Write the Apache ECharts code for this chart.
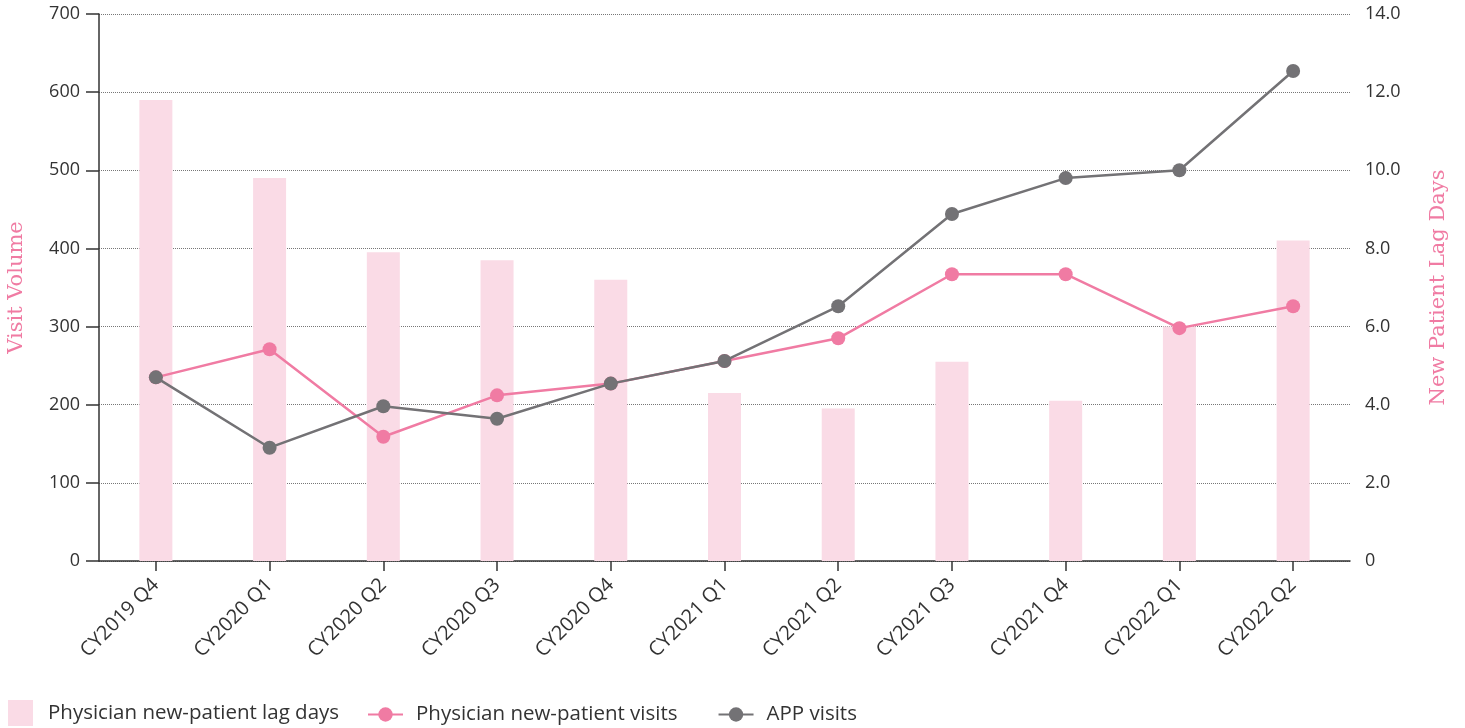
<!DOCTYPE html>
<html>
<head>
<meta charset="utf-8">
<script src="https://cdn.jsdelivr.net/npm/echarts@6/dist/echarts.min.js"></script>
<style>
html,body{margin:0;padding:0;background:#fff;}
#c{width:1465px;height:728px;}
</style>
</head>
<body>
<div id="c"></div>
<script>
const categories = ['CY2019 Q4','CY2020 Q1','CY2020 Q2','CY2020 Q3','CY2020 Q4','CY2021 Q1','CY2021 Q2','CY2021 Q3','CY2021 Q4','CY2022 Q1','CY2022 Q2'];
const lagDays = [11.8, 9.8, 7.9, 7.7, 7.2, 4.3, 3.9, 5.1, 4.1, 6.0, 8.2];
const physicianVisits = [235, 271, 159, 212, 227, 256, 285, 367, 367, 298, 326];
const appVisits = [235, 145, 198, 182, 227, 256, 326, 444, 490, 500, 627];
const leftTicks = [0, 100, 200, 300, 400, 500, 600, 700];
const rightTicks = [0, 2, 4, 6, 8, 10, 12, 14];

const FONT = '"Open Sans", "Noto Sans", sans-serif';
const SERIF = '"DejaVu Serif", "Liberation Serif", serif';
const PINK = '#f07ba3';
const GRAY = '#737275';
const BAR = '#fadbe6';

const chart = echarts.init(document.getElementById('c'));
chart.setOption({
  animation: false,
  backgroundColor: '#fff',
  grid: { left: 99, right: 115, top: 14, bottom: 167, containLabel: false, outerBoundsMode: 'none' },
  legend: [
    {
      data: [{ name: 'Physician new-patient lag days', icon: 'rect' }],
      left: 8, top: 700, padding: 0,
      itemWidth: 25, itemHeight: 26,
      textStyle: { fontFamily: FONT, fontSize: 20.5, color: '#333', padding: [0, 0, 0, 10] }
    },
    {
      data: ['Physician new-patient visits', 'APP visits'],
      left: 367, top: 704, padding: 0,
      itemWidth: 35, itemHeight: 18, itemGap: 40,
      textStyle: { fontFamily: FONT, fontSize: 20.5, color: '#333', padding: [0, 0, 0, 8] }
    }
  ],
  xAxis: {
    type: 'category',
    data: categories,
    boundaryGap: true,
    axisLine: { show: true, lineStyle: { color: '#333', width: 1.5 } },
    axisTick: { show: true, alignWithLabel: true, length: 10, lineStyle: { color: '#333', width: 1.5 } },
    axisLabel: { rotate: 45, fontFamily: FONT, fontSize: 20, color: '#333', margin: 21, interval: 0 },
    splitLine: { show: false }
  },
  yAxis: [
    {
      type: 'value',
      min: leftTicks[0], max: leftTicks[leftTicks.length - 1], interval: 100,
      name: 'Visit Volume',
      nameLocation: 'middle', nameRotate: 90, nameGap: 72,
      nameTextStyle: { fontFamily: SERIF, fontSize: 21, color: PINK },
      axisLine: { show: true, lineStyle: { color: '#333', width: 1.5 } },
      axisTick: { show: true, length: 13, lineStyle: { color: '#333', width: 1.5 } },
      axisLabel: { fontFamily: FONT, fontSize: 18, color: '#333', margin: 19 },
      splitLine: { show: true, lineStyle: { color: '#777', type: [1, 1], width: 1 } }
    },
    {
      type: 'value',
      min: rightTicks[0], max: rightTicks[rightTicks.length - 1], interval: 2,
      name: 'New Patient Lag Days',
      nameLocation: 'middle', nameRotate: 90, nameGap: 78,
      nameTextStyle: { fontFamily: SERIF, fontSize: 21, color: PINK },
      axisLine: { show: false },
      axisTick: { show: false },
      axisLabel: { fontFamily: FONT, fontSize: 18, color: '#333', margin: 15,
        formatter: v => v === 0 ? '0' : v.toFixed(1) },
      splitLine: { show: false }
    }
  ],
  series: [
    {
      name: 'Physician new-patient lag days',
      type: 'bar',
      yAxisIndex: 1,
      data: lagDays,
      barWidth: 33,
      itemStyle: { color: BAR },
      z: 1
    },
    {
      name: 'Physician new-patient visits',
      type: 'line',
      yAxisIndex: 0,
      data: physicianVisits,
      symbol: 'circle', symbolSize: 14,
      lineStyle: { color: PINK, width: 2.5 },
      itemStyle: { color: PINK },
      z: 3
    },
    {
      name: 'APP visits',
      type: 'line',
      yAxisIndex: 0,
      data: appVisits,
      symbol: 'circle', symbolSize: 14,
      lineStyle: { color: GRAY, width: 2.5 },
      itemStyle: { color: GRAY },
      z: 4
    }
  ]
});
</script>
</body>
</html>
